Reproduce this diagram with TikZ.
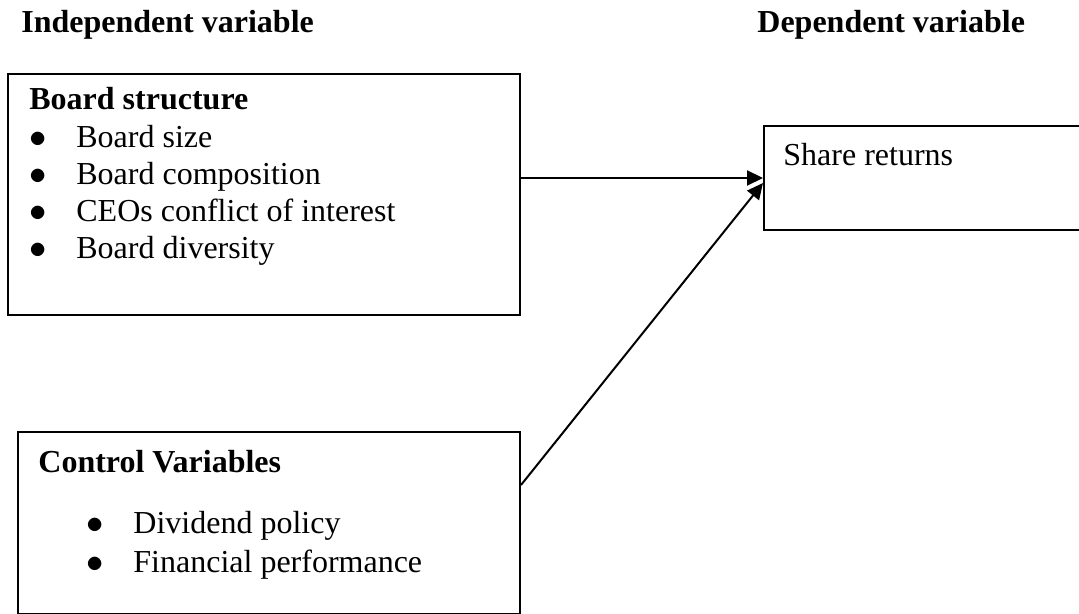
\documentclass[tikz,border=0pt]{standalone}
\usepackage{fontspec}
\setmainfont{Liberation Serif}
\usetikzlibrary{arrows.meta,positioning}

\newcommand{\bitem}[1]{\makebox[23.5pt][l]{$\bullet$}#1}

\begin{document}
\begin{tikzpicture}[
    x=0.5pt, y=-0.5pt,
    font=\fontsize{16}{19}\selectfont,
    block/.style={rectangle, draw, line width=1pt, inner sep=0pt, anchor=north west},
    line/.style={draw, line width=1pt, -{Triangle[length=8pt, width=7.5pt]}},
    heading/.style={anchor=base west, inner sep=0pt, font=\fontsize{16}{19}\selectfont\bfseries},
    entry/.style={anchor=base west, inner sep=0pt}
]
    \useasboundingbox (0,0) rectangle (1079,614);

    % Place boxes
    \node [block, minimum width=256pt, minimum height=120.5pt] at (7,73) (board) {};
    \node [block, minimum width=165pt, minimum height=52pt] at (763,125) (share) {};
    \node [block, minimum width=251pt, minimum height=91pt] at (17,431) (control) {};

    % Headings
    \node [heading] at (21,33) (indep) {Independent variable};
    \node [heading] at (757,33) (dep) {Dependent variable};

    % Board structure list
    \node [heading] at (29,110) (board title) {Board structure};
    \node [entry] at (29,148) (size) {\bitem{Board size}};
    \node [entry] at (29,185) (composition) {\bitem{Board composition}};
    \node [entry] at (29,222) (ceo) {\bitem{CEOs conflict of interest}};
    \node [entry] at (29,259) (diversity) {\bitem{Board diversity}};

    % Dependent variable
    \node [entry] at (783,166) (returns) {Share returns};

    % Control variables list
    \node [heading] at (38,472) (control title) {Control Variables};
    \node [entry] at (86,533) (dividend) {\bitem{Dividend policy}};
    \node [entry] at (86,572) (performance) {\bitem{Financial performance}};

    % Draw edges
    \path [line] (board.east |- share.west) -- (share.west);
    \path [line] (control.east |- 0,485) -- ([yshift=-2.5pt]share.west);
\end{tikzpicture}
\end{document}
